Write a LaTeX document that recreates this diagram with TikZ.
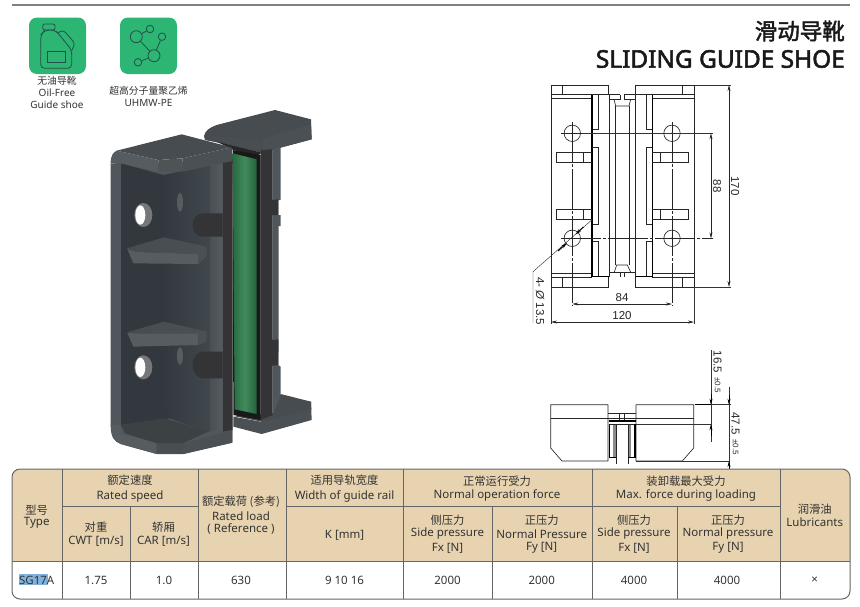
\documentclass[tikz,border=0pt]{standalone}
\usepackage{fontspec}
\setmainfont{Noto Sans}
\newfontfamily\cjk{Noto Sans CJK SC}
\newfontfamily\cjkb{Noto Sans CJK SC}[FakeBold=2]
\newfontfamily\ttlfont{Noto Sans}[FakeBold=2.2]
\newfontfamily\dimfont{Liberation Sans}
\usetikzlibrary{arrows.meta}
\definecolor{hdr}{HTML}{E8D3B0}
\definecolor{gridc}{HTML}{666666}
\definecolor{iconG}{HTML}{2CB573}
\definecolor{iconL}{HTML}{24504A}
\definecolor{txt}{HTML}{333333}
\definecolor{sel}{HTML}{7FB2DC}
\definecolor{cDark}{HTML}{343436}
\definecolor{cTop}{HTML}{474C50}
\definecolor{cFace}{HTML}{565C60}
\definecolor{cFaceD}{HTML}{4B5054}
\definecolor{cBand}{HTML}{50575C}
\definecolor{cIn}{HTML}{32383E}
\definecolor{cInR}{HTML}{40484D}
\definecolor{cGreen}{HTML}{2D7D4A}
\newcounter{tn}
\newcommand{\tx}[3]{\stepcounter{tn}\node[celltxt] (t\thetn) at (#1,#2) {#3};}
\newcommand{\zh}[3]{\stepcounter{tn}\node[celltxt,font=\cjk\fontsize{11.3}{12}\selectfont] (t\thetn) at (#1,#2) {#3};}
\tikzset{
 celltxt/.style={inner sep=0pt,text=txt,font=\fontsize{11.5}{12}\selectfont},
 gridline/.style={draw=gridc,line width=1pt},
 dw/.style={line width=0.65pt,draw=black!85},
 thin dw/.style={line width=0.45pt,draw=black!80},
 thick dw/.style={line width=1.1pt,draw=black},
 dimline/.style={line width=0.5pt,draw=black!85,{Stealth[length=6pt,width=3pt]}-{Stealth[length=6pt,width=3pt]}},
 dimtxt/.style={inner sep=0pt,text=black!85,font=\dimfont\fontsize{11.5}{12}\selectfont},
 dimsmall/.style={inner sep=0pt,text=black!85,font=\dimfont\fontsize{8}{8}\selectfont},
 center line/.style={line width=0.5pt,draw=black!85,dash pattern=on 40pt off 2pt on 3pt off 2pt},
 icon/.style={line width=0.8pt,draw=iconL},
 mol/.style={circle,draw=iconL,line width=0.8pt,inner sep=0pt},
}
\begin{document}
\begin{tikzpicture}[x=1pt,y=-1pt]
\useasboundingbox (0,0) rectangle (860,606);
% top rule
\draw[draw=black!50,line width=1.4pt] (12,5) -- (850,5);
% title
\node[inner sep=0pt,anchor=east,text=black!90,font=\cjkb\fontsize{22.5}{24}\selectfont] (title1) at (845,31) {滑动导靴};
\node[inner sep=0pt,anchor=east,text=black!90,font=\ttlfont\fontsize{24.4}{28}\selectfont] (title2) at (845,59) {SLIDING GUIDE SHOE};
% icons
\fill[iconG,rounded corners=8pt] (29,17.5) rectangle (86,74);
\fill[iconG,rounded corners=8pt] (120,17.5) rectangle (177,74);
\begin{scope}[scale=1/3]
\draw[icon,rounded corners=2pt] (128,72) rectangle (165,90);
\draw[icon,rounded corners=4pt] (122,105) -- (135,90) -- (165,90) -- (176,102) -- (215,150) -- (215,205) -- (122,205) -- cycle;
\draw[icon,rounded corners=3pt] (175,98) -- (190,90) -- (225,130) -- (215,152);
\draw[icon] (143,155) rectangle (195,188);
\end{scope}
\node[mol,minimum size=12pt] (m1) at (136.3,36.7) {};
\node[mol,minimum size=7.5pt] (m2) at (150,29) {};
\node[mol,minimum size=7.5pt] (m3) at (162,36.7) {};
\node[mol,minimum size=12pt] (m4) at (154,55.7) {};
\node[mol,minimum size=7.5pt] (m5) at (138,62.3) {};
\draw[icon] (m1) -- (m2) (m1) -- (m4) (m3) -- (m4) (m5) -- (m4);
\begin{scope}[every node/.style={inner sep=0pt,text=txt}]
\node[font=\cjk\fontsize{9.8}{10}\selectfont] (c1) at (57,80.5) {无油导靴};
\node[font=\fontsize{10}{10}\selectfont] (c2) at (57,92.5) {Oil-Free};
\node[font=\fontsize{10}{10}\selectfont] (c3) at (57,104.5) {Guide shoe};
\node[font=\cjk\fontsize{9.8}{10}\selectfont] (c4) at (148.5,90.5) {超高分子量聚乙烯};
\node[font=\fontsize{10}{10}\selectfont] (c5) at (148.5,102.5) {UHMW-PE};
\end{scope}
% 3D part (coordinates in 3x crop units)
\begin{scope}[shift={(90,100)},scale=1/3]
% back foot
\fill[cFaceD] (430,950) -- (512,965) -- (572,925) -- (663,905) -- (665,960) -- (515,1002) -- (430,980) -- cycle;
\fill[cTop] (572,882) -- (663,905) -- (664,928) -- (515,965) -- (430,948) -- (548,940) -- cycle;
% back cap
\fill[cTop] (345,120) -- (342,108) .. controls (345,92) and (360,82) .. (380,75) -- (555,30) -- (663,58) -- (665,118) -- (575,142) -- (515,158) -- (420,135) -- cycle;
\fill[cFaceD] (515,118) -- (663,72) -- (665,118) -- (575,142) -- (515,158) -- cycle;
\fill[cFace!85!black] (345,108) -- (515,118) -- (515,158) -- (420,135) -- cycle;
\fill[black!85] (380,125) -- (515,158) -- (500,170) -- (430,150) -- cycle;
% back flange
\fill[cBand] (548,148) -- (572,142) -- (572,300) -- (565,300) -- (565,345) -- (572,345) -- (572,378) -- (566,378) -- (566,720) -- (565,795) -- (572,800) -- (572,885) -- (548,945) -- cycle;
\fill[cDark] (512,150) -- (548,148) -- (548,300) -- (565,298) -- (565,345) -- (548,345) -- (548,378) -- (548,720) -- (565,718) -- (565,795) -- (548,797) -- (548,945) -- (512,960) -- cycle;
% black gap and green liner
\fill[black!90] (428,150) -- (512,165) -- (512,960) -- (430,945) -- cycle;
\shade[left color=cGreen!85!black,right color=cGreen!80!black,middle color=cGreen!90!white] (428,160) -- (500,178) -- (500,942) -- (434,928) -- cycle;
% front piece body
\fill[cBand] (62,190) -- (62,975) .. controls (62,1012) and (72,1024) .. (92,1032) -- (200,1062) -- (280,1062) -- (427,1028) -- (427,183) -- cycle;
% dark section
\fill[cDark] (398,185) -- (428,178) -- (428,990) -- (398,995) -- cycle;
% right wall lighter band
\shade[left color=cInR,right color=cFace] (335,205) -- (398,190) -- (398,995) -- (335,1000) -- cycle;
% inner cavity
\shade[left color=cIn,right color=cInR] (220,225) -- (360,195) -- (360,1000) -- (240,955) -- (220,900) -- cycle;
\fill[cIn] (93,190) -- (220,225) -- (220,900) -- (240,955) -- (93,975) -- cycle;
% cavity floor
\fill[cTop!85!black] (93,975) -- (225,955) -- (355,995) -- (280,1030) -- (200,1030) -- (105,1000) -- cycle;
% lower facets
\fill[cFace] (92,1000) -- (200,1030) -- (200,1062) -- (92,1032) .. controls (76,1024) and (70,1015) .. (66,1000) -- (62,975) -- (93,975) -- cycle;
\fill[cFace!85!black] (200,1030) -- (280,1030) -- (280,1062) -- (200,1060) -- cycle;
\fill[cFaceD] (280,1030) -- (427,990) -- (427,1028) -- (280,1062) -- cycle;
\fill[cBand] (355,995) -- (398,990) -- (398,996) -- (280,1030) -- cycle;
% holes
\fill[gray!75!cFace] (160,345) ellipse (27 and 36);
\fill[white] (151,345) ellipse (15 and 29);
\fill[gray!75!cFace] (160,802) ellipse (27 and 36);
\fill[white] (151,802) ellipse (15 and 29);
\fill[cFace] (270,307) ellipse (9 and 28);
\fill[cFace] (270,768) ellipse (9 and 26);
% round notches
\fill[cDark] (398,340) -- (345,340) .. controls (295,335) and (295,415) .. (345,410) -- (398,410) -- cycle;
\fill[cDark] (398,755) -- (345,755) .. controls (295,750) and (295,840) .. (345,835) -- (398,835) -- cycle;
% lugs
\shade[left color=cIn!90!white,right color=cInR!95!white] (110,445) -- (222,412) -- (350,440) -- (325,462) -- (140,456) -- cycle;
\fill[cFace] (112,447) -- (140,456) -- (325,462) -- (325,492) -- (130,490) -- cycle;
\fill[cFaceD] (325,462) -- (350,440) -- (350,468) -- (325,492) -- cycle;
\shade[left color=cIn!90!white,right color=cInR!95!white] (110,697) -- (222,665) -- (350,695) -- (325,700) -- (135,700) -- cycle;
\fill[cFace] (112,699) -- (135,700) -- (325,700) -- (325,735) -- (130,740) -- cycle;
\fill[cFaceD] (325,700) -- (350,695) -- (350,725) -- (325,735) -- cycle;
% front cap
\fill[cTop] (80,152) -- (275,103) -- (425,142) -- (278,175) -- (205,180) -- cycle;
\fill[cFace] (62,190) .. controls (62,168) and (68,158) .. (80,152) -- (205,180) -- (205,215) -- (93,190) -- cycle;
\fill[cFace!90!black] (205,180) -- (278,175) -- (278,215) -- (205,215) -- cycle;
\fill[cFaceD] (278,175) -- (425,142) -- (427,183) -- (278,215) -- cycle;
\end{scope}
% drawing: front view
\begin{scope}
\draw[dw] (551,85) rectangle (608.7,94.7);
\draw[dw] (635.7,85) rectangle (694,94.7);
\draw[dw] (562,85) -- (562,94.7) (682,85) -- (682,94.7);
\draw[dw] (551,85) -- (551,287) (694,85) -- (694,287);
\draw[dw] (551,98) -- (592,98) (652.3,98) -- (694,98);
\draw[dw] (592,94.7) -- (620,94.7) (624.3,94.7) -- (652.3,94.7);
\draw[dw] (609.3,94.7) -- (609.3,276.7) (615,106) -- (615,265) (629,106) -- (629,265) (635,94.7) -- (635,276.7);
% top detail
\draw[dw] (609.3,99.3) -- (620,99.3) -- (620,94.7) (624.3,94.7) -- (624.3,99.3) -- (635,99.3);
\draw[dw] (614,99.3) -- (615.7,106) -- (629,106) -- (630.7,99.3);
% bottom detail
\draw[dw] (609.3,272.3) -- (635,272.3);
\draw[dw] (614.3,272.3) -- (616.7,265) -- (627.3,265) -- (630.7,272.3);
\draw[dw] (620,272.3) -- (620,277) (624.3,272.3) -- (624.3,277);
% bottom plates
\draw[dw] (551,273.3) -- (592,273.3) (652.3,273.3) -- (694,273.3);
\draw[dw] (551,287) -- (608.7,287) -- (608.7,277) (635.7,277) -- (635.7,287) -- (694,287);
\draw[dw] (551,277) -- (592,277) (652.3,277) -- (694,277);
\draw[dw] (562,277) -- (562,287) (682,277) -- (682,287);
% strips
\foreach \xa/\xb/\s in {592/598.3/1,652.3/646/-1}{
  \draw[thick dw] (\xa,94.7) -- (\xa,129.3) (\xa,147.3) -- (\xa,224.3) (\xa,241.7) -- (\xa,276.7);
  \draw[dw] (\xb,94.7) -- (\xb,129.3) -- (\xa,129.3) (\xa,147.3) -- (\xb,147.3) -- (\xb,224.3) -- (\xa,224.3);
  \draw[dw] (\xa,241.7) -- (\xb,241.7) -- (\xb,276.7);
  \draw[thick dw] (\xa,129.3) -- (\xa,147.3) (\xa,224.3) -- (\xa,241.7);
}
\draw[thick dw] (592,276.7) -- (608.7,276.7) (635.7,276.7) -- (652.3,276.7);
% lugs
\draw[dw] (592,152.3) -- (556,152.3) -- (556,162.3) -- (592,162.3) (583.3,152.3) -- (583.3,162.3);
\draw[dw] (592,209.3) -- (556,209.3) -- (556,219.3) -- (592,219.3) (583.3,209.3) -- (583.3,219.3);
\draw[dw] (652.3,152.3) -- (688.3,152.3) -- (688.3,162.3) -- (652.3,162.3) (660.7,152.3) -- (660.7,162.3);
\draw[dw] (652.3,209.3) -- (688.3,209.3) -- (688.3,219.3) -- (652.3,219.3) (660.7,209.3) -- (660.7,219.3);
% holes
\foreach \cx/\cy in {572.3/133.3,672/133.3,572.3/238.3,672/238.3}{
  \draw[dw,fill=white] (\cx,\cy) circle (8.2);
  \draw[dw] (\cx-11,\cy) -- (\cx+11,\cy);
  \fill[black] (\cx,\cy) circle (0.9);
}
% centre lines
\draw[center line] (572.3,122) -- (572.3,306);
\draw[center line] (672,122) -- (672,306);
\draw[thin dw] (583,133.3) -- (713,133.3);
\draw[center line] (561,238.3) -- (713,238.3);
% dimensions
\draw[thin dw] (695,85) -- (731,85) (695,287) -- (731,287);
\draw[thin dw] (551,287) -- (551,324) (694,287) -- (694,324);
\draw[dimline] (729,85) -- (729,287);
\draw[dimline] (711,133.3) -- (711,238.3);
\draw[dimline] (572.3,304) -- (672,304);
\draw[dimline] (551,322) -- (694,322);
\node[dimtxt,rotate=-90] (d170) at (735,186) {170};
\node[dimtxt,rotate=-90] (d88) at (717,186) {88};
\node[dimtxt] (d84) at (622,298) {84};
\node[dimtxt] (d120) at (622,316) {120};
% leader
\coordinate (ldA) at (591.7,220);
\coordinate (ldB) at (533,271.7);
\coordinate (ldC) at (533,323);
\draw[thin dw] (ldA) -- (ldB) -- (ldC);
\draw[line width=1pt,black,-{Stealth[length=6pt,width=3pt]}] (583.3,227) -- (575.5,234.5);
\draw[line width=1pt,black,-{Stealth[length=6pt,width=3pt]}] (558,251) -- (567,243);
\node[dimtxt,rotate=-90,anchor=west] (d4) at (540,277) {4- {\itshape Ø} 13.5};
\end{scope}
% drawing: side view
\begin{scope}
\draw[dw] (608,404.7) -- (550.7,404.7) -- (550.7,448) -- (562,461) -- (608,461) -- (608,404.7);
\draw[dw] (636,404.7) -- (693.7,404.7) -- (693.7,448) -- (682.3,461) -- (636,461) -- (636,404.7);
\draw[dw] (550.7,418) -- (693.7,418);
\draw[dw] (608,413.3) -- (636,413.3);
\draw[dw] (619.3,413.3) rectangle (624.3,421);
\draw[thick dw] (608.7,421) -- (635.5,421);
\draw[dw] (610,424.3) -- (635,424.3);
\draw[thick dw] (609.7,424) -- (609.7,457) (635,424) -- (635,457);
\draw[line width=2.6pt,draw=black!45] (614.5,425) -- (614.5,457);
\draw[line width=2.6pt,draw=black!45] (629.5,425) -- (629.5,457);
\draw[dw] (616,425) -- (616,464) (628,425) -- (628,464);
\draw[thick dw] (608.5,457.3) -- (616,457.3) (628,457.3) -- (635.5,457.3);
\draw[thick dw] (695,404.7) -- (711,404.7);
\draw[thin dw] (711,404.7) -- (731,404.7);
\draw[thin dw] (636,424.3) -- (711,424.3);
\draw[thin dw] (636,461) -- (729,461);
\draw[thin dw] (711,350) -- (711,441.7);
\draw[line width=0.5pt,black,-{Stealth[length=6pt,width=3pt]}] (711,394) -- (711,404.7);
\draw[line width=0.5pt,black,-{Stealth[length=6pt,width=3pt]}] (711,436) -- (711,424.3);
\draw[thin dw] (729,386.7) -- (729,468);
\draw[line width=0.5pt,black,-{Stealth[length=6pt,width=3pt]}] (729,395) -- (729,404.7);
\draw[line width=0.5pt,black,-{Stealth[length=6pt,width=3pt]}] (729,470) -- (729,461);
\node[dimtxt,rotate=-90] (d165) at (717.5,362) {16.5};
\node[dimsmall,rotate=-90] (d165b) at (717.5,385) {±0.5};
\node[dimtxt,rotate=-90] (d475) at (735.5,423.5) {47.5};
\node[dimsmall,rotate=-90] (d475b) at (735.5,447) {±0.5};
\end{scope}
% table
\fill[hdr,rounded corners=8pt] (12,561.7) -- (12,469) -- (850,469) -- (850,561.7) -- cycle;
\fill[hdr] (12,550) rectangle (850,561.7);
\draw[gridline,rounded corners=8pt] (12,469) -- (850,469) -- (850,599) -- (12,599) -- cycle;
\draw[gridline] (12,561.7) -- (850,561.7);
\draw[gridline] (62,469) -- (62,599);
\draw[gridline] (130,506) -- (130,599);
\draw[gridline] (198,469) -- (198,599);
\draw[gridline] (286,469) -- (286,599);
\draw[gridline] (403.5,469) -- (403.5,599);
\draw[gridline] (492,506) -- (492,599);
\draw[gridline] (592,469) -- (592,599);
\draw[gridline] (677,506) -- (677,599);
\draw[gridline] (780,469) -- (780,599);
\draw[gridline] (62,506) -- (198,506) (286,506) -- (780,506);
\fill[sel] (18.5,574) rectangle (47.5,585);
\zh{36.7}{510}{型号}
\tx{36.7}{523}{Type}
\zh{130}{480}{额定速度}
\tx{130}{496.7}{Rated speed}
\zh{96}{527}{对重}
\tx{96}{541}{CWT [m/s]}
\zh{163.5}{527}{轿厢}
\tx{163.5}{541}{CAR [m/s]}
\zh{241}{502}{额定载荷 (参考)}
\tx{241}{516}{Rated load}
\tx{241}{529}{( Reference )}
\zh{344.5}{480}{适用导轨宽度}
\tx{344.5}{496.7}{Width of guide rail}
\tx{344.5}{535}{K [mm]}
\zh{497}{481}{正常运行受力}
\tx{497}{495}{Normal operation force}
\zh{447.5}{520}{侧压力}
\tx{447.5}{534}{Side pressure}
\tx{447.5}{548}{Fx [N]}
\zh{541.7}{520}{正压力}
\tx{541.7}{534}{Normal Pressure}
\tx{541.7}{548}{Fy [N]}
\zh{686}{481}{装卸载最大受力}
\tx{686}{495}{Max. force during loading}
\zh{634}{520}{侧压力}
\tx{634}{534}{Side pressure}
\tx{634}{548}{Fx [N]}
\zh{728}{520}{正压力}
\tx{728}{534}{Normal pressure}
\tx{728}{548}{Fy [N]}
\zh{814.7}{509}{润滑油}
\tx{814.7}{522}{Lubricants}
\tx{36.7}{580}{SG17A}
\tx{96}{580}{1.75}
\tx{164}{580}{1.0}
\tx{241}{580}{630}
\tx{344.5}{580}{9 10 16}
\tx{447.5}{580}{2000}
\tx{541.7}{580}{2000}
\tx{634}{580}{4000}
\tx{727}{580}{4000}
\tx{814.7}{580}{×}
\end{tikzpicture}
\end{document}
